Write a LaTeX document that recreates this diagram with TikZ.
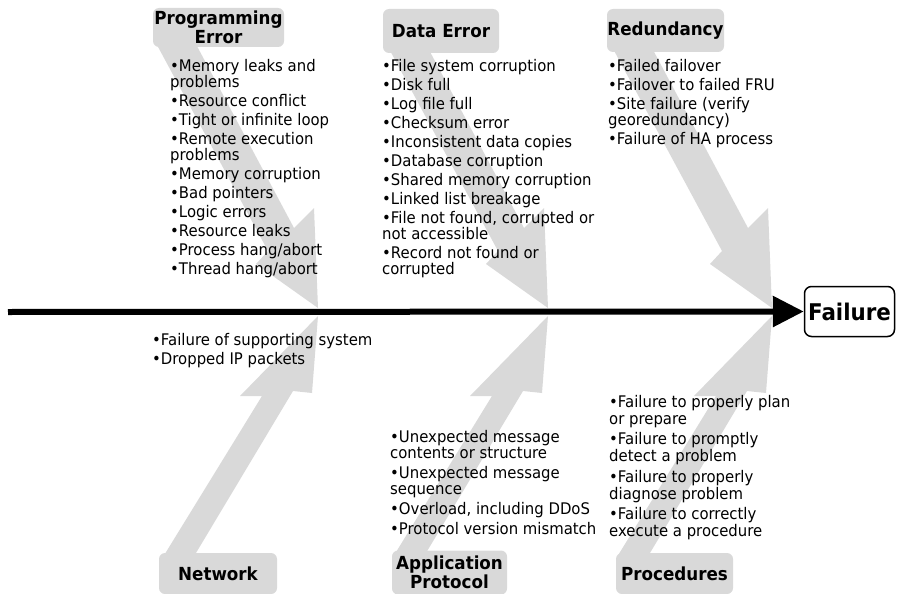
\documentclass[tikz,border=0pt]{standalone}
\usepackage{fontspec}
\setmainfont[FakeStretch=0.93]{DejaVu Sans}
\usetikzlibrary{arrows.meta}
\definecolor{arrowgray}{RGB}{217,217,217}
\tikzset{
  itemtext/.style={anchor=north west, inner sep=0pt, align=left, font=\fontsize{16}{16}\selectfont},
  header/.style={fill=arrowgray, rounded corners=6pt, inner sep=0pt, align=center, font=\fontsize{18}{19.5}\selectfont\bfseries},
  toparrow/.pic={\fill[arrowgray] (-150,-275) -- (-161,-263) -- (-50,-57) -- (-62,-44) -- (0,0) -- (-4,-100) -- (-24,-80) -- (-128,-275) -- cycle;},
  botarrow/.pic={\fill[arrowgray] (-150,262) -- (-155,241) -- (-56,80) -- (-78,80) -- (0,0) -- (-6,77) -- (-25,75) -- (-137,262) -- cycle;}
}
\begin{document}
\begin{tikzpicture}[x=1pt,y=-1pt]
\useasboundingbox (0,0) rectangle (897,594);
% arrow tips on the spine
\coordinate (pe-tip) at (318,308);
\coordinate (de-tip) at (548,308);
\coordinate (re-tip) at (772,308);
\coordinate (nw-tip) at (318,316);
\coordinate (ap-tip) at (548,316);
\coordinate (pr-tip) at (772,316);
\pic at (pe-tip) {toparrow};
\pic at (de-tip) {toparrow};
\pic at (re-tip) {toparrow};
\pic at (nw-tip) {botarrow};
\pic at (ap-tip) {botarrow};
\pic at (pr-tip) {botarrow};
% headers
\node[header, minimum width=131pt, minimum height=39pt] (pe) at (218.5,27.5) {Programming\\Error};
\node[header, minimum width=116pt, minimum height=44pt] (de) at (441,31) {Data Error};
\node[header, minimum width=117pt, minimum height=43pt] (re) at (665.5,30.5) {Redundancy};
\node[header, minimum width=118pt, minimum height=41pt] (nw) at (218,573.5) {Network};
\node[header, minimum width=115pt, minimum height=44pt] (ap) at (449.5,572.5) {Application\\Protocol};
\node[header, minimum width=117pt, minimum height=41pt] (pr) at (674.5,573.5) {Procedures};
% spine and effect
\coordinate (spine-start) at (8,312);
\node[draw, line width=1.5pt, rounded corners=7pt, minimum width=90pt, minimum height=50pt, inner sep=0pt, font=\fontsize{23}{23}\selectfont\bfseries] (failure) at (849.5,311.5) {Failure};
\draw[line width=6pt, -{Triangle[length=31pt,width=30pt]}] (spine-start) -- (failure.west);
% cause lists
\node[itemtext] (pe-list) at (170,59) {•Memory leaks and\\problems\\[3pt]•Resource conflict\\[3pt]•Tight or infinite loop\\[3pt]•Remote execution\\problems\\[3pt]•Memory corruption\\[3pt]•Bad pointers\\[3pt]•Logic errors\\[3pt]•Resource leaks\\[3pt]•Process hang/abort\\[3pt]•Thread hang/abort};
\node[itemtext] (de-list) at (382,59) {•File system corruption\\[3pt]•Disk full\\[3pt]•Log file full\\[3pt]•Checksum error\\[3pt]•Inconsistent data copies\\[3pt]•Database corruption\\[3pt]•Shared memory corruption\\[3pt]•Linked list breakage\\[3pt]•File not found, corrupted or\\not accessible\\[3pt]•Record not found or\\corrupted};
\node[itemtext] (re-list) at (608,59) {•Failed failover\\[3pt]•Failover to failed FRU\\[3pt]•Site failure (verify\\georedundancy)\\[3pt]•Failure of HA process};
\node[itemtext] (nw-list) at (152,333) {•Failure of supporting system\\[3pt]•Dropped IP packets};
\node[itemtext] (ap-list) at (390,430) {•Unexpected message\\contents or structure\\[4pt]•Unexpected message\\sequence\\[4pt]•Overload, including DDoS\\[4pt]•Protocol version mismatch};
\node[itemtext, font=\fontsize{16}{17}\selectfont] (pr-list) at (609,395) {•Failure to properly plan\\or prepare\\[3.5pt]•Failure to promptly\\detect a problem\\[3.5pt]•Failure to properly\\diagnose problem\\[3.5pt]•Failure to correctly\\execute a procedure};
\end{tikzpicture}
\end{document}
